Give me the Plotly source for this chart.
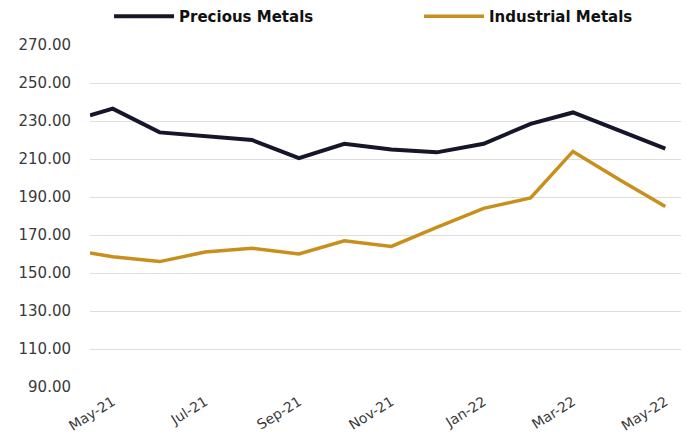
import plotly.graph_objects as go

# monthly observations, first point is a mid-April start value
dates = [
    "2021-04-16", "2021-05-01", "2021-06-01", "2021-07-01", "2021-08-01",
    "2021-09-01", "2021-10-01", "2021-11-01", "2021-12-01", "2022-01-01",
    "2022-02-01", "2022-03-01", "2022-04-01", "2022-05-01",
]
precious = [233, 236.5, 224, 222, 220, 210.5, 218, 215, 213.5, 218, 228.5, 234.5, 225, 215.5]
industrial = [160.5, 158.5, 156, 161, 163, 160, 167, 164, 174, 184, 189.5, 214, 199, 185]

y_ticks = [90, 110, 130, 150, 170, 190, 210, 230, 250, 270]
x_ticks = ["2021-05-01", "2021-07-01", "2021-09-01", "2021-11-01",
           "2022-01-01", "2022-03-01", "2022-05-01"]

fig = go.Figure()
fig.add_trace(go.Scatter(x=dates, y=precious, name="<b>Precious Metals</b>", mode="lines",
                         line=dict(color="#16162a", width=4), legend="legend"))
fig.add_trace(go.Scatter(x=dates, y=industrial, name="<b>Industrial Metals</b>", mode="lines",
                         line=dict(color="#c98f1c", width=3.5), legend="legend2"))

font = "DejaVu Sans"
leg = dict(orientation="h", y=1.083, xanchor="left", yanchor="middle", itemwidth=60,
           font=dict(size=15, color="#111111"), bgcolor="rgba(0,0,0,0)")
# page body adds an 8px offset, so the figure is sized 8px smaller
fig.update_layout(
    width=681, height=439,
    margin=dict(l=82, r=4, t=37, b=60, autoexpand=False),
    plot_bgcolor="white", paper_bgcolor="white",
    font=dict(family=font, color="#333333"),
    showlegend=True,
    legend=dict(leg, x=0.032),
    legend2=dict(leg, x=0.553),
)
fig.update_yaxes(
    range=[90, 270], tickvals=y_ticks, tickformat=".2f",
    showgrid=True, gridcolor="#dedede", gridwidth=1,
    zeroline=False, showline=False, automargin=False,
    tickfont=dict(size=15, color="#3a3a3a"), ticklabelstandoff=18,
)
fig.update_xaxes(
    type="date", range=["2021-04-16", "2022-05-14"],
    tickvals=x_ticks, tickformat="%b-%y", tickangle=-32,
    showgrid=False, zeroline=False, showline=False, automargin=False,
    tickfont=dict(size=14, color="#3a3a3a"), ticklabelstandoff=3,
)

fig.write_html("out.html")
